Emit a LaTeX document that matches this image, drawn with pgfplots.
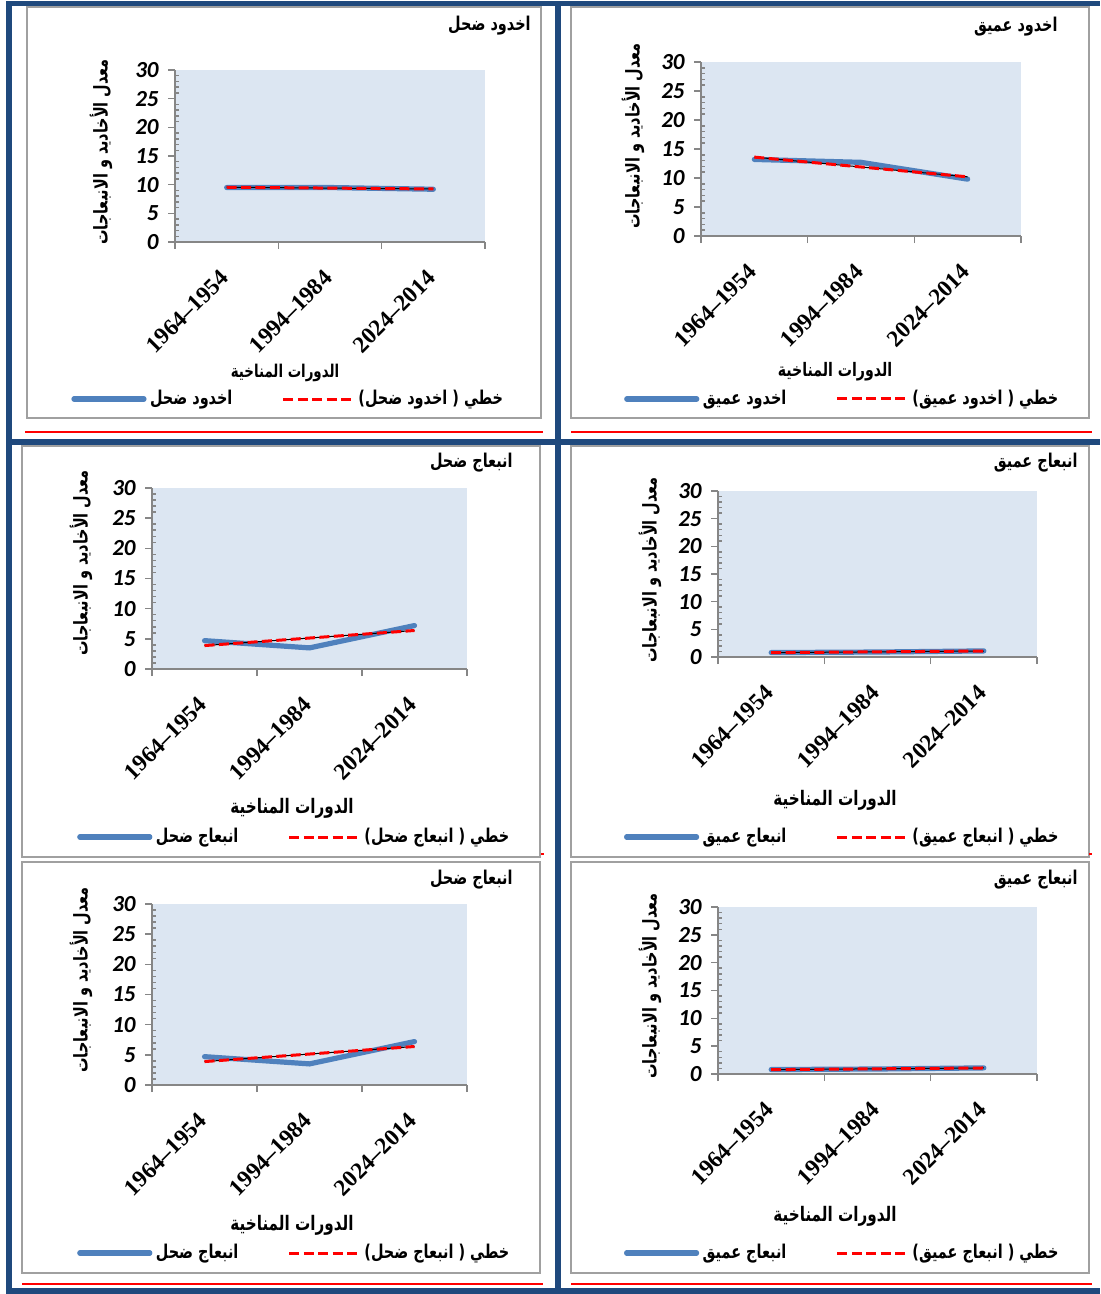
\documentclass[border=0pt]{standalone}
\usepackage{pgfplots}
\pgfplotsset{compat=1.18}
\usepackage{fontspec}
\setmainfont{Liberation Serif}
\newfontfamily\arabicfont[Script=Arabic, FakeStretch=0.76]{DejaVu Sans}
\newfontfamily\calibri{Carlito}
\newfontfamily\calbi{Carlito}[UprightFont={* Bold Italic}]
\newfontfamily\timesf{Liberation Serif}[UprightFont={* Bold}]
\TeXXeTstate=1
\definecolor{frameblue}{HTML}{1F497D}
\definecolor{lineblue}{HTML}{4F81BD}
\definecolor{plotbg}{HTML}{DCE6F2}
\definecolor{axisgray}{HTML}{868686}
\definecolor{boxgray}{HTML}{A0A0A0}
\newcommand{\arb}[1][9.5]{\arabicfont\bfseries\fontsize{#1}{#1}\selectfont}
\newcommand{\geom}[4]{\def\AX{#1}\def\AY{#2}\def\AW{#3}\def\AH{#4}%
  \pgfmathsetmacro\Wpt{#3*0.5}\pgfmathsetmacro\Hpt{#4*0.5}%
  \pgfmathsetmacro\Apx{#1*0.5}\pgfmathsetmacro\Apy{-#2*0.5}}
\newcommand{\rel}[4]{\pgfmathsetmacro#1{(#3-\AX)/\AW}\pgfmathsetmacro#2{(\AY-#4)/\AH}}
\pgfplotsset{panel/.style={
  scale only axis, width=\Wpt pt, height=\Hpt pt,
  at={(\Apx pt,\Apy pt)}, anchor=south west,
  axis x line=bottom, axis y line=left,
  axis line style={axisgray, line width=0.75pt, -},
  axis background/.style={fill=plotbg},
  xmin=0.5, xmax=3.5, ymin=0, ymax=30,
  xtick={0.5,1.5,2.5,3.5}, xticklabels={},
  extra x ticks={1,2,3},
  extra x tick labels={1964–1954,1994–1984,2024–2014},
  extra x tick style={major tick length=0pt},
  ytick={0,5,...,30}, yticklabels={0,5,10,15,20,25,30},
  minor y tick num=4,
  tick align=outside, major tick length=3.5pt, minor tick length=2pt,
  every minor y tick/.append style={xshift=2pt},
  tick style={axisgray, line width=0.75pt},
  yticklabel style={font=\calbi\fontsize{11.5}{11.5}\selectfont, anchor=east, inner sep=0pt, xshift=-4.5pt},
  xticklabel style={font=\timesf\fontsize{11.7}{11.7}\selectfont, rotate=45, anchor=east, inner sep=1pt, xshift=-10.9pt, yshift=-10.7pt},
  clip=false,
  legend columns=2,
  legend style={draw=none, fill=none, anchor=center, inner sep=0pt,
    nodes={inner xsep=1.75pt, inner ysep=1pt},
    /tikz/every even column/.append style={column sep=23pt}},
  legend image code/.code={\draw[##1] (0pt,0pt) -- (35pt,0pt);},
  every axis title/.style={anchor=east, inner sep=0pt},
  every axis x label/.style={anchor=center, inner sep=0pt},
  every axis y label/.style={anchor=center, rotate=90, inner sep=0pt},
}}
\pgfplotsset{
  blueline/.style={lineblue, line width=2.6pt, line cap=round},
  trendblack/.style={black, line width=0.5pt, forget plot},
  trendred/.style={red, line width=1.5pt, dash pattern=on 5pt off 2.2pt},
}
\newcommand{\eqnode}[3]{\node[red, font=\calibri\fontsize{10.7}{13.5}\selectfont, align=center] at (#1) {#2\\#3};}
\begin{document}
\begin{tikzpicture}
\begin{scope}[x=0.5pt,y=-0.5pt]
\fill[frameblue] (6,1) rectangle (1100,6);
\fill[frameblue] (6,1) rectangle (12,1294);
\fill[frameblue] (555,1) rectangle (561,1294);
\fill[frameblue] (6,439) rectangle (1100,445);
\fill[frameblue] (6,1288) rectangle (1100,1294);
\draw[boxgray, line width=1.25pt] (27,7) rectangle (541,418);
\draw[boxgray, line width=1.25pt] (571,7) rectangle (1089,418);
\draw[boxgray, line width=1.25pt] (22,446) rectangle (540,857);
\draw[boxgray, line width=1.25pt] (571,446) rectangle (1089,857);
\draw[boxgray, line width=1.25pt] (22,862) rectangle (540,1273);
\draw[boxgray, line width=1.25pt] (571,862) rectangle (1089,1273);
\draw[red, line width=1pt] (25,432) -- (543,432);
\draw[red, line width=1pt] (571,432) -- (1092,432);
\draw[red, line width=1pt] (541,854) -- (544,854);
\draw[red, line width=1pt] (1089,854) -- (1092,854);
\draw[red, line width=1pt] (22,1284) -- (543,1284);
\draw[red, line width=1pt] (571,1284) -- (1092,1284);
\eqnode{380,117.5}{y = -0.15x + 9.7}{R² = 0.75}
\eqnode{916,104.5}{y = -1.7x + 15.3}{R² = 0.8576}
\eqnode{349,559}{y = 1.25x + 2.6333}{R² = 0.4385}
\eqnode{918,556}{y = 0.15x + 0.6333}{R² = 0.9643}
\eqnode{349,975}{y = 1.25x + 2.6333}{R² = 0.4385}
\eqnode{918,972}{y = 0.15x + 0.6333}{R² = 0.9643}
\end{scope}

% ---------- Panel 1
\geom{175}{242}{310}{172}
\rel\tX\tY{531}{26}\rel\xX\xY{285}{373}\rel\yX\yY{101}{152}\rel\lX\lY{289}{399}
\begin{axis}[panel,
  title={\arb\beginR اخدود ضحل\endR}, title style={at={(axis description cs:\tX,\tY)}},
  xlabel={\arb[8.8]\beginR الدورات المناخية\endR}, xlabel style={at={(axis description cs:\xX,\xY)}},
  ylabel={\arb\beginR معدل الأخاديد و الانبعاجات\endR}, ylabel style={at={(axis description cs:\yX,\yY)}},
  legend style={at={(axis description cs:\lX,\lY)}}]
\addplot[blueline] coordinates {(1,9.5) (2,9.5) (3,9.2)};
\addlegendentry{\arb\beginR اخدود ضحل\endR}
\addplot[trendblack] coordinates {(1,9.55) (2,9.4) (3,9.25)};
\addplot[trendred] coordinates {(1,9.55) (2,9.4) (3,9.25)};
\addlegendentry{\arb)\beginR اخدود ضحل\endR\ (\ \beginR خطي\endR}
\end{axis}

% ---------- Panel 2
\geom{701}{236}{320}{174}
\rel\tX\tY{1058}{27}\rel\xX\xY{835}{372}\rel\yX\yY{633}{136}\rel\lX\lY{843}{399}
\begin{axis}[panel,
  title={\arb\beginR اخدود عميق\endR}, title style={at={(axis description cs:\tX,\tY)}},
  xlabel={\arb[9.3]\beginR الدورات المناخية\endR}, xlabel style={at={(axis description cs:\xX,\xY)}},
  ylabel={\arb\beginR معدل الأخاديد و الانبعاجات\endR}, ylabel style={at={(axis description cs:\yX,\yY)}},
  legend style={at={(axis description cs:\lX,\lY)}}]
\addplot[blueline] coordinates {(1,13.2) (2,12.7) (3,9.8)};
\addlegendentry{\arb\beginR اخدود عميق\endR}
\addplot[trendblack] coordinates {(1,13.6) (2,11.9) (3,10.2)};
\addplot[trendred] coordinates {(1,13.6) (2,11.9) (3,10.2)};
\addlegendentry{\arb)\beginR اخدود عميق\endR\ (\ \beginR خطي\endR}
\end{axis}

% ---------- Panel 3
\geom{152}{669}{315}{181}
\rel\tX\tY{513}{463}\rel\xX\xY{292}{808}\rel\yX\yY{81}{563}\rel\lX\lY{295}{837}
\begin{axis}[panel,
  title={\arb\beginR انبعاج ضحل\endR}, title style={at={(axis description cs:\tX,\tY)}},
  xlabel={\arb[10]\beginR الدورات المناخية\endR}, xlabel style={at={(axis description cs:\xX,\xY)}},
  ylabel={\arb\beginR معدل الأخاديد و الانبعاجات\endR}, ylabel style={at={(axis description cs:\yX,\yY)}},
  legend style={at={(axis description cs:\lX,\lY)}}]
\addplot[blueline] coordinates {(1,4.7) (2,3.5) (3,7.2)};
\addlegendentry{\arb\beginR انبعاج ضحل\endR}
\addplot[trendblack] coordinates {(1,3.8833) (2,5.1333) (3,6.3833)};
\addplot[trendred] coordinates {(1,3.8833) (2,5.1333) (3,6.3833)};
\addlegendentry{\arb)\beginR انبعاج ضحل\endR\ (\ \beginR خطي\endR}
\end{axis}

% ---------- Panel 4
\geom{718}{657}{319}{166}
\rel\tX\tY{1078}{463}\rel\xX\xY{835}{800}\rel\yX\yY{650}{570}\rel\lX\lY{843}{837}
\begin{axis}[panel,
  title={\arb\beginR انبعاج عميق\endR}, title style={at={(axis description cs:\tX,\tY)}},
  xlabel={\arb[10]\beginR الدورات المناخية\endR}, xlabel style={at={(axis description cs:\xX,\xY)}},
  ylabel={\arb\beginR معدل الأخاديد و الانبعاجات\endR}, ylabel style={at={(axis description cs:\yX,\yY)}},
  legend style={at={(axis description cs:\lX,\lY)}}]
\addplot[blueline] coordinates {(1,0.8) (2,0.9) (3,1.1)};
\addlegendentry{\arb\beginR انبعاج عميق\endR}
\addplot[trendblack] coordinates {(1,0.7833) (2,0.9333) (3,1.0833)};
\addplot[trendred] coordinates {(1,0.7833) (2,0.9333) (3,1.0833)};
\addlegendentry{\arb)\beginR انبعاج عميق\endR\ (\ \beginR خطي\endR}
\end{axis}

% ---------- Panel 5
\geom{152}{1085}{315}{181}
\rel\tX\tY{513}{880}\rel\xX\xY{292}{1225}\rel\yX\yY{81}{980}\rel\lX\lY{295}{1253}
\begin{axis}[panel,
  title={\arb\beginR انبعاج ضحل\endR}, title style={at={(axis description cs:\tX,\tY)}},
  xlabel={\arb[10]\beginR الدورات المناخية\endR}, xlabel style={at={(axis description cs:\xX,\xY)}},
  ylabel={\arb\beginR معدل الأخاديد و الانبعاجات\endR}, ylabel style={at={(axis description cs:\yX,\yY)}},
  legend style={at={(axis description cs:\lX,\lY)}}]
\addplot[blueline] coordinates {(1,4.7) (2,3.5) (3,7.2)};
\addlegendentry{\arb\beginR انبعاج ضحل\endR}
\addplot[trendblack] coordinates {(1,3.8833) (2,5.1333) (3,6.3833)};
\addplot[trendred] coordinates {(1,3.8833) (2,5.1333) (3,6.3833)};
\addlegendentry{\arb)\beginR انبعاج ضحل\endR\ (\ \beginR خطي\endR}
\end{axis}

% ---------- Panel 6
\geom{718}{1074}{319}{167}
\rel\tX\tY{1078}{880}\rel\xX\xY{835}{1216}\rel\yX\yY{650}{986}\rel\lX\lY{843}{1253}
\begin{axis}[panel,
  title={\arb\beginR انبعاج عميق\endR}, title style={at={(axis description cs:\tX,\tY)}},
  xlabel={\arb[10]\beginR الدورات المناخية\endR}, xlabel style={at={(axis description cs:\xX,\xY)}},
  ylabel={\arb\beginR معدل الأخاديد و الانبعاجات\endR}, ylabel style={at={(axis description cs:\yX,\yY)}},
  legend style={at={(axis description cs:\lX,\lY)}}]
\addplot[blueline] coordinates {(1,0.8) (2,0.9) (3,1.1)};
\addlegendentry{\arb\beginR انبعاج عميق\endR}
\addplot[trendblack] coordinates {(1,0.7833) (2,0.9333) (3,1.0833)};
\addplot[trendred] coordinates {(1,0.7833) (2,0.9333) (3,1.0833)};
\addlegendentry{\arb)\beginR انبعاج عميق\endR\ (\ \beginR خطي\endR}
\end{axis}
\pgfresetboundingbox
\path[use as bounding box] (0pt,0pt) rectangle (550pt,-647pt);
\end{tikzpicture}
\end{document}
